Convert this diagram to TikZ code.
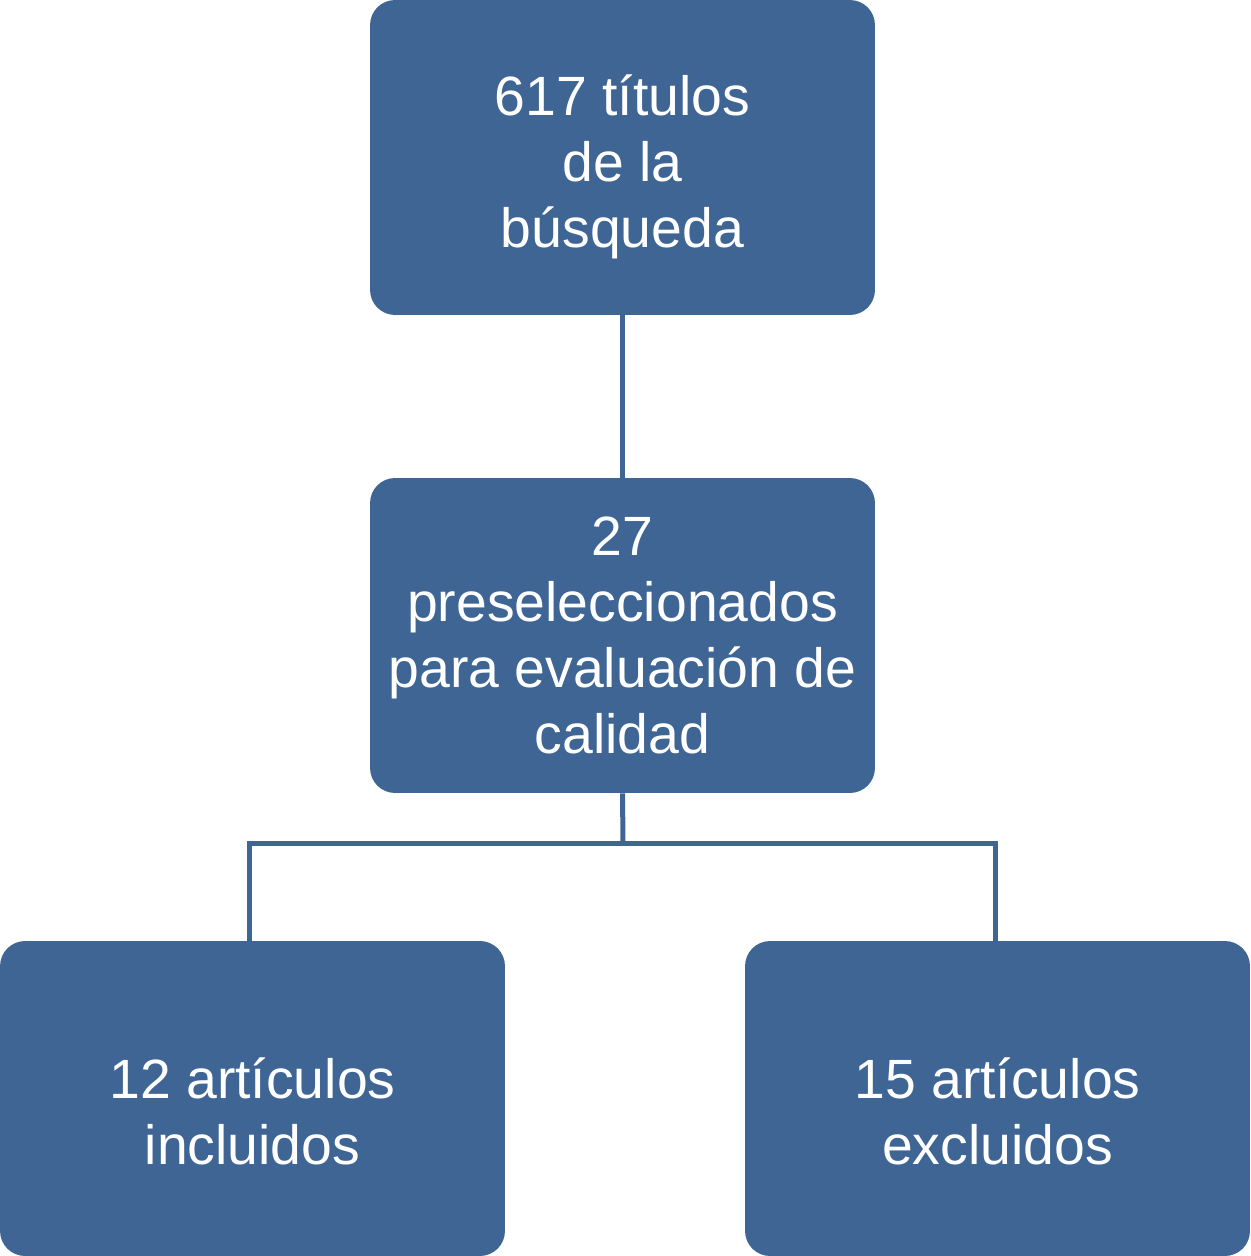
\documentclass[tikz,border=0pt]{standalone}
\usepackage{fontspec}
\setmainfont{Liberation Sans}
\definecolor{boxblue}{RGB}{62,101,148}
\begin{document}
\begin{tikzpicture}[x=0.02cm,y=-0.02cm,
  box/.style={fill=boxblue, rounded corners=0.5cm, text=white, align=center,
    inner sep=0pt, minimum width=10.1cm, minimum height=6.3cm,
    font=\fontsize{31.5}{37.5}\selectfont},
  link/.style={draw=boxblue, line width=0.1cm}]
\useasboundingbox (0,0) rectangle (1250,1256);
\node[box] (top) at (622.5,157.5) {\\[-0.12cm]617 títulos\\de la\\búsqueda};
\node[box] (mid) at (622.5,635.5) {27\\preseleccionados\\para evaluación de\\calidad};
\node[box] (left) at (252.5,1098.5) {\\[0cm]12 artículos\\incluidos};
\node[box] (right) at (997.5,1098.5) {\\[0cm]15 artículos\\excluidos};
\coordinate (split) at (623,843);
\draw[link] (top.south) -- (mid.north);
\draw[link] (mid.south) -- (split);
\draw[link] (split) -| ([xshift=-0.06cm]left.north);
\draw[link] (split) -| ([xshift=-0.05cm]right.north);
\end{tikzpicture}
\end{document}
